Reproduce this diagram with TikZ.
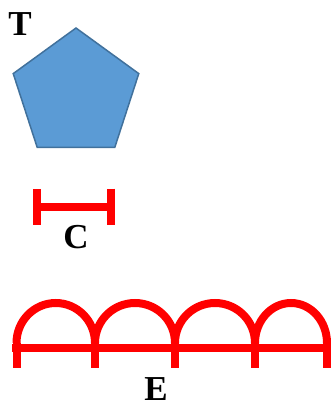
\documentclass[tikz,border=0pt]{standalone}
\usepackage{fontspec}
\setmainfont{Liberation Serif}
\usepackage{tikz}
\usetikzlibrary{shapes.geometric,arrows.meta}
\definecolor{penfill}{HTML}{5B9BD5}
\definecolor{pendraw}{HTML}{41719C}

\begin{document}
\begin{tikzpicture}[
  x=1pt, y=-1pt,
  lbl/.style={inner sep=0pt, font=\bfseries\fontsize{35}{40}\selectfont},
  penta/.style={regular polygon, regular polygon sides=5, minimum size=132pt,
                inner sep=0pt, fill=penfill, draw=pendraw, line width=1.5pt},
  cbar/.style={red, line width=8pt, {Bar[width=36pt]}-{Bar[width=36pt]}},
  ebar/.style={red, line width=8pt}
]
\useasboundingbox (0,0) rectangle (330,402);

\node[lbl] (tlabel) at (20,24.5) {T};
\node[penta] (pent) at (76,94) {};

\coordinate (cl) at (33,206.5);
\coordinate (cr) at (115,206.5);
\draw[cbar] (cl) -- (cr);
\node[lbl] (clabel) at (76,237.5) {C};

\coordinate (e0) at (16.5,343);
\coordinate (e1) at (95,343);
\coordinate (e2) at (175,343);
\coordinate (e3) at (255,343);
\coordinate (e4) at (327,343);
\coordinate (el) at (12,347.5);
\coordinate (er) at (331,347.5);
\draw[ebar] (el) -- (er);
\draw[ebar] (e0) arc[start angle=180, end angle=0, x radius=39.25pt, y radius=40pt];
\draw[ebar] (e1) arc[start angle=180, end angle=0, x radius=40pt, y radius=40pt];
\draw[ebar] (e2) arc[start angle=180, end angle=0, x radius=40pt, y radius=40pt];
\draw[ebar] (e3) arc[start angle=180, end angle=0, x radius=36pt, y radius=40pt];
\foreach \t in {e0,e1,e2,e3,e4}
  \draw[ebar] (\t) -- ++(0,25);
\node[lbl] (elabel) at (156,389.5) {E};

\end{tikzpicture}
\end{document}
